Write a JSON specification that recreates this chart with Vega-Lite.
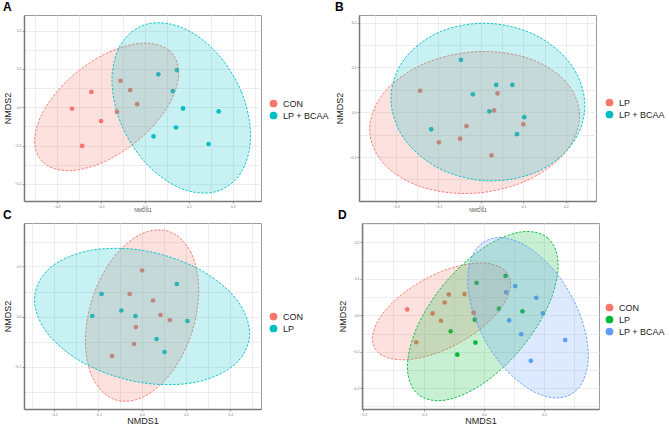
{
"$schema": "https://vega.github.io/schema/vega-lite/v6.json",
"padding": {"left": 2, "top": 0, "right": 0, "bottom": 0},
"background": "white",
"datasets": {
"A_pts": [
{"g":"CON","x":-0.165,"y":-0.004},{"g":"CON","x":-0.121,"y":0.040},{"g":"CON","x":-0.099,"y":-0.036},{"g":"CON","x":-0.142,"y":-0.101},
{"g":"CON","x":-0.055,"y":0.069},{"g":"CON","x":-0.033,"y":0.045},{"g":"CON","x":-0.063,"y":-0.012},{"g":"CON","x":-0.017,"y":0.008},
{"g":"LP + BCAA","x":0.031,"y":0.086},{"g":"LP + BCAA","x":0.073,"y":0.097},{"g":"LP + BCAA","x":0.064,"y":0.042},{"g":"LP + BCAA","x":0.087,"y":-0.003},
{"g":"LP + BCAA","x":0.168,"y":-0.011},{"g":"LP + BCAA","x":0.071,"y":-0.053},{"g":"LP + BCAA","x":0.020,"y":-0.076},{"g":"LP + BCAA","x":0.145,"y":-0.096}
],
"A_ell": [
{"g":"CON","t":0,"x":0.0772,"y":0.0901},{"g":"CON","t":1,"x":0.0553,"y":0.1484},{"g":"CON","t":2,"x":-0.0046,"y":0.1672},{"g":"CON","t":3,"x":-0.0864,"y":0.1413},
{"g":"CON","t":4,"x":-0.1682,"y":0.0778},{"g":"CON","t":5,"x":-0.2281,"y":-0.0062},{"g":"CON","t":6,"x":-0.25,"y":-0.0885},{"g":"CON","t":7,"x":-0.2281,"y":-0.1468},
{"g":"CON","t":8,"x":-0.1682,"y":-0.1656},{"g":"CON","t":9,"x":-0.0864,"y":-0.1397},{"g":"CON","t":10,"x":-0.0046,"y":-0.0762},{"g":"CON","t":11,"x":0.0553,"y":0.0078},
{"g":"LP + BCAA","t":0,"x":0.2403,"y":-0.0741},{"g":"LP + BCAA","t":1,"x":0.2192,"y":0.041},{"g":"LP + BCAA","t":2,"x":0.1617,"y":0.1445},{"g":"LP + BCAA","t":3,"x":0.083,"y":0.2089},
{"g":"LP + BCAA","t":4,"x":0.0043,"y":0.2169},{"g":"LP + BCAA","t":5,"x":-0.0532,"y":0.1662},{"g":"LP + BCAA","t":6,"x":-0.0743,"y":0.0705},{"g":"LP + BCAA","t":7,"x":-0.0532,"y":-0.0446},
{"g":"LP + BCAA","t":8,"x":0.0043,"y":-0.1481},{"g":"LP + BCAA","t":9,"x":0.083,"y":-0.2125},{"g":"LP + BCAA","t":10,"x":0.1617,"y":-0.2205},{"g":"LP + BCAA","t":11,"x":0.2192,"y":-0.1698}
],
"B_pts": [
{"g":"LP","x":-0.143,"y":0.048},{"g":"LP","x":0.039,"y":0.042},{"g":"LP","x":0.031,"y":0.004},{"g":"LP","x":-0.034,"y":-0.031},
{"g":"LP","x":0.100,"y":-0.027},{"g":"LP","x":-0.049,"y":-0.059},{"g":"LP","x":-0.099,"y":-0.067},{"g":"LP","x":0.025,"y":-0.096},
{"g":"LP + BCAA","x":-0.047,"y":0.117},{"g":"LP + BCAA","x":0.036,"y":0.061},{"g":"LP + BCAA","x":0.074,"y":0.061},{"g":"LP + BCAA","x":-0.019,"y":0.040},
{"g":"LP + BCAA","x":0.020,"y":0.002},{"g":"LP + BCAA","x":0.102,"y":-0.011},{"g":"LP + BCAA","x":-0.117,"y":-0.038},{"g":"LP + BCAA","x":0.085,"y":-0.049}
],
"B_ell": [
{"g":"LP","t":0,"x":0.2323,"y":-0.008},{"g":"LP","t":1,"x":0.1992,"y":0.0689},{"g":"LP","t":2,"x":0.1088,"y":0.1213},{"g":"LP","t":3,"x":-0.0148,"y":0.1349},
{"g":"LP","t":4,"x":-0.1384,"y":0.1063},{"g":"LP","t":5,"x":-0.2288,"y":0.0431},{"g":"LP","t":6,"x":-0.2619,"y":-0.0378},{"g":"LP","t":7,"x":-0.2288,"y":-0.1147},
{"g":"LP","t":8,"x":-0.1384,"y":-0.1671},{"g":"LP","t":9,"x":-0.0148,"y":-0.1807},{"g":"LP","t":10,"x":0.1088,"y":-0.1521},{"g":"LP","t":11,"x":0.1992,"y":-0.0889},
{"g":"LP + BCAA","t":0,"x":0.2447,"y":0.0149},{"g":"LP + BCAA","t":1,"x":0.2141,"y":0.1038},{"g":"LP + BCAA","t":2,"x":0.1306,"y":0.171},{"g":"LP + BCAA","t":3,"x":0.0165,"y":0.1985},
{"g":"LP + BCAA","t":4,"x":-0.0976,"y":0.1788},{"g":"LP + BCAA","t":5,"x":-0.1811,"y":0.1174},{"g":"LP + BCAA","t":6,"x":-0.2117,"y":0.0305},{"g":"LP + BCAA","t":7,"x":-0.1811,"y":-0.0584},
{"g":"LP + BCAA","t":8,"x":-0.0976,"y":-0.1256},{"g":"LP + BCAA","t":9,"x":0.0165,"y":-0.1531},{"g":"LP + BCAA","t":10,"x":0.1306,"y":-0.1334},{"g":"LP + BCAA","t":11,"x":0.2141,"y":-0.072}
],
"C_pts": [
{"g":"CON","x":0.000,"y":0.092},{"g":"CON","x":-0.028,"y":0.045},{"g":"CON","x":0.025,"y":0.032},{"g":"CON","x":0.042,"y":0.003},
{"g":"CON","x":0.063,"y":-0.007},{"g":"CON","x":-0.014,"y":-0.021},{"g":"CON","x":-0.018,"y":-0.055},{"g":"CON","x":-0.068,"y":-0.079},
{"g":"LP","x":0.079,"y":0.065},{"g":"LP","x":-0.092,"y":0.045},{"g":"LP","x":-0.047,"y":0.012},{"g":"LP","x":-0.113,"y":0.001},
{"g":"LP","x":-0.015,"y":0.001},{"g":"LP","x":0.103,"y":-0.009},{"g":"LP","x":0.033,"y":-0.045},{"g":"LP","x":0.051,"y":-0.071}
],
"C_ell": [
{"g":"CON","t":0,"x":0.1286,"y":0.0524},{"g":"CON","t":1,"x":0.1114,"y":0.1276},{"g":"CON","t":2,"x":0.0643,"y":0.1691},{"g":"CON","t":3,"x":0,"y":0.1658},
{"g":"CON","t":4,"x":-0.0643,"y":0.1185},{"g":"CON","t":5,"x":-0.1114,"y":0.04},{"g":"CON","t":6,"x":-0.1286,"y":-0.0488},{"g":"CON","t":7,"x":-0.1114,"y":-0.124},
{"g":"CON","t":8,"x":-0.0643,"y":-0.1655},{"g":"CON","t":9,"x":0,"y":-0.1622},{"g":"CON","t":10,"x":0.0643,"y":-0.1149},{"g":"CON","t":11,"x":0.1114,"y":-0.0364},
{"g":"LP","t":0,"x":0.2442,"y":-0.0334},{"g":"LP","t":1,"x":0.2115,"y":0.0373},{"g":"LP","t":2,"x":0.1221,"y":0.098},{"g":"LP","t":3,"x":0,"y":0.1324},
{"g":"LP","t":4,"x":-0.1221,"y":0.1314},{"g":"LP","t":5,"x":-0.2115,"y":0.0951},{"g":"LP","t":6,"x":-0.2442,"y":0.0334},{"g":"LP","t":7,"x":-0.2115,"y":-0.0373},
{"g":"LP","t":8,"x":-0.1221,"y":-0.098},{"g":"LP","t":9,"x":0,"y":-0.1324},{"g":"LP","t":10,"x":0.1221,"y":-0.1314},{"g":"LP","t":11,"x":0.2115,"y":-0.0951}
],
"D_pts": [
{"g":"CON","x":-0.127,"y":0.016},{"g":"CON","x":-0.058,"y":0.057},{"g":"CON","x":-0.032,"y":0.058},{"g":"CON","x":-0.065,"y":0.035},
{"g":"CON","x":-0.085,"y":0.005},{"g":"CON","x":-0.071,"y":-0.015},{"g":"CON","x":-0.017,"y":0.007},{"g":"CON","x":-0.112,"y":-0.074},
{"g":"LP","x":-0.012,"y":0.089},{"g":"LP","x":0.036,"y":0.108},{"g":"LP","x":0.025,"y":0.018},{"g":"LP","x":0.064,"y":0.011},
{"g":"LP","x":-0.015,"y":-0.012},{"g":"LP","x":-0.055,"y":-0.044},{"g":"LP","x":-0.014,"y":-0.075},{"g":"LP","x":-0.044,"y":-0.108},
{"g":"LP + BCAA","x":0.052,"y":0.080},{"g":"LP + BCAA","x":0.037,"y":0.063},{"g":"LP + BCAA","x":0.087,"y":0.048},{"g":"LP + BCAA","x":0.098,"y":0.005},
{"g":"LP + BCAA","x":0.042,"y":-0.014},{"g":"LP + BCAA","x":0.062,"y":-0.052},{"g":"LP + BCAA","x":0.135,"y":-0.068},{"g":"LP + BCAA","x":0.078,"y":-0.125}
],
"D_ell": [
{"g":"CON","t":0,"x":0.0445,"y":0.0858},{"g":"CON","t":1,"x":0.0291,"y":0.1305},{"g":"CON","t":2,"x":-0.0128,"y":0.143},{"g":"CON","t":3,"x":-0.0702,"y":0.1201},
{"g":"CON","t":4,"x":-0.1276,"y":0.0678},{"g":"CON","t":5,"x":-0.1695,"y":0.0003},{"g":"CON","t":6,"x":-0.1849,"y":-0.0646},{"g":"CON","t":7,"x":-0.1695,"y":-0.1093},
{"g":"CON","t":8,"x":-0.1276,"y":-0.1218},{"g":"CON","t":9,"x":-0.0702,"y":-0.0989},{"g":"CON","t":10,"x":-0.0128,"y":-0.0466},{"g":"CON","t":11,"x":0.0291,"y":0.0209},
{"g":"LP","t":0,"x":0.1233,"y":0.137},{"g":"LP","t":1,"x":0.1066,"y":0.2112},{"g":"LP","t":2,"x":0.0608,"y":0.2283},{"g":"LP","t":3,"x":-0.0017,"y":0.1836},
{"g":"LP","t":4,"x":-0.0642,"y":0.0891},{"g":"LP","t":5,"x":-0.11,"y":-0.0298},{"g":"LP","t":6,"x":-0.1267,"y":-0.1414},{"g":"LP","t":7,"x":-0.11,"y":-0.2156},
{"g":"LP","t":8,"x":-0.0642,"y":-0.2327},{"g":"LP","t":9,"x":-0.0017,"y":-0.188},{"g":"LP","t":10,"x":0.0608,"y":-0.0935},{"g":"LP","t":11,"x":0.1066,"y":0.0254},
{"g":"LP + BCAA","t":0,"x":0.1733,"y":-0.1106},{"g":"LP + BCAA","t":1,"x":0.1599,"y":0.0003},{"g":"LP + BCAA","t":2,"x":0.1233,"y":0.1093},{"g":"LP + BCAA","t":3,"x":0.0733,"y":0.1872},
{"g":"LP + BCAA","t":4,"x":0.0233,"y":0.2131},{"g":"LP + BCAA","t":5,"x":-0.0133,"y":0.1801},{"g":"LP + BCAA","t":6,"x":-0.0267,"y":0.097},{"g":"LP + BCAA","t":7,"x":-0.0133,"y":-0.0139},
{"g":"LP + BCAA","t":8,"x":0.0233,"y":-0.1229},{"g":"LP + BCAA","t":9,"x":0.0733,"y":-0.2008},{"g":"LP + BCAA","t":10,"x":0.1233,"y":-0.2267},{"g":"LP + BCAA","t":11,"x":0.1599,"y":-0.1937}
]
},
"vconcat": [
{
"hconcat": [
{
"width": 237, "height": 186,
"title": {"text": "A"},
"encoding": {
"x": {"field": "x", "type": "quantitative", "scale": {"domain": [-0.274, 0.264], "nice": false, "zero": false},
"axis": {"values": [-0.25,-0.2,-0.15,-0.1,-0.05,0,0.05,0.1,0.15,0.2,0.25], "title": "NMDS1", "titleFontSize": 5, "titleColor": "#555", "titlePadding": 0,
"labelExpr": "abs(round(datum.value*100)) % 10 == 0 ? format(datum.value, '.1f') : ''",
"tickOpacity": {"condition": {"test": "abs(round(datum.value*100)) % 10 != 0", "value": 0}, "value": 1}}},
"y": {"field": "y", "type": "quantitative", "scale": {"domain": [-0.245, 0.241], "nice": false, "zero": false},
"axis": {"values": [-0.2,-0.15,-0.1,-0.05,0,0.05,0.1,0.15,0.2], "title": "NMDS2",
"labelExpr": "abs(round(datum.value*100)) % 10 == 0 ? format(datum.value, '.1f') : ''",
"tickOpacity": {"condition": {"test": "abs(round(datum.value*100)) % 10 != 0", "value": 0}, "value": 1}}}
},
"layer": [
{"data": {"name": "A_pts"}, "mark": {"type": "circle", "size": 22, "opacity": 1},
"encoding": {"color": {"field": "g", "type": "nominal", "scale": {"domain": ["CON","LP + BCAA"], "range": ["#F8766D","#00BFC4"]},
"legend": {"orient": "none", "legendX": 245, "legendY": 84}}}},
{"data": {"name": "A_ell"}, "mark": {"type": "line", "interpolate": "cardinal-closed", "strokeDash": [2.5, 1.5], "strokeWidth": 0.9, "fillOpacity": 0.22},
"encoding": {"order": {"field": "t", "type": "quantitative"},
"stroke": {"field": "g", "type": "nominal", "scale": {"domain": ["CON","LP + BCAA"], "range": ["#F8766D","#00BFC4"]}, "legend": null},
"fill": {"field": "g", "type": "nominal", "scale": {"domain": ["CON","LP + BCAA"], "range": ["#F8766D","#00BFC4"]}, "legend": null}}}
]
},
{
"width": 237, "height": 186,
"title": {"text": "B"},
"encoding": {
"x": {"field": "x", "type": "quantitative", "scale": {"domain": [-0.287, 0.271], "nice": false, "zero": false},
"axis": {"values": [-0.25,-0.2,-0.15,-0.1,-0.05,0,0.05,0.1,0.15,0.2,0.25], "title": "NMDS1", "titleFontSize": 5, "titleColor": "#555", "titlePadding": 0,
"labelExpr": "abs(round(datum.value*100)) % 10 == 0 ? format(datum.value, '.1f') : ''",
"tickOpacity": {"condition": {"test": "abs(round(datum.value*100)) % 10 != 0", "value": 0}, "value": 1}}},
"y": {"field": "y", "type": "quantitative", "scale": {"domain": [-0.198, 0.217], "nice": false, "zero": false},
"axis": {"values": [-0.15,-0.1,-0.05,0,0.05,0.1,0.15,0.2], "title": "NMDS2", "titlePadding": 5,
"labelExpr": "abs(round(datum.value*100)) % 10 == 0 ? format(datum.value, '.1f') : ''",
"tickOpacity": {"condition": {"test": "abs(round(datum.value*100)) % 10 != 0", "value": 0}, "value": 1}}}
},
"layer": [
{"data": {"name": "B_pts"}, "mark": {"type": "circle", "size": 22, "opacity": 1},
"encoding": {"color": {"field": "g", "type": "nominal", "scale": {"domain": ["LP","LP + BCAA"], "range": ["#F8766D","#00BFC4"]},
"legend": {"orient": "none", "legendX": 246, "legendY": 83}}}},
{"data": {"name": "B_ell"}, "mark": {"type": "line", "interpolate": "cardinal-closed", "strokeDash": [2.5, 1.5], "strokeWidth": 0.9, "fillOpacity": 0.22},
"encoding": {"order": {"field": "t", "type": "quantitative"},
"stroke": {"field": "g", "type": "nominal", "scale": {"domain": ["LP","LP + BCAA"], "range": ["#F8766D","#00BFC4"]}, "legend": null},
"fill": {"field": "g", "type": "nominal", "scale": {"domain": ["LP","LP + BCAA"], "range": ["#F8766D","#00BFC4"]}, "legend": null}}}
]
}
],
"spacing": 4,
"resolve": {"scale": {"color": "independent", "stroke": "independent", "fill": "independent"}, "legend": {"color": "independent"}}
},
{
"hconcat": [
{
"width": 237, "height": 186,
"title": {"text": "C"},
"encoding": {
"x": {"field": "x", "type": "quantitative", "scale": {"domain": [-0.268, 0.270], "nice": false, "zero": false},
"axis": {"values": [-0.25,-0.2,-0.15,-0.1,-0.05,0,0.05,0.1,0.15,0.2,0.25], "title": "NMDS1", "titlePadding": 1,
"labelExpr": "abs(round(datum.value*100)) % 10 == 0 ? format(datum.value, '.1f') : ''",
"tickOpacity": {"condition": {"test": "abs(round(datum.value*100)) % 10 != 0", "value": 0}, "value": 1}}},
"y": {"field": "y", "type": "quantitative", "scale": {"domain": [-0.185, 0.187], "nice": false, "zero": false},
"axis": {"values": [-0.15,-0.1,-0.05,0,0.05,0.1,0.15], "title": "NMDS2",
"labelExpr": "abs(round(datum.value*100)) % 10 == 0 ? format(datum.value, '.1f') : ''",
"tickOpacity": {"condition": {"test": "abs(round(datum.value*100)) % 10 != 0", "value": 0}, "value": 1}}}
},
"layer": [
{"data": {"name": "C_pts"}, "mark": {"type": "circle", "size": 22, "opacity": 1},
"encoding": {"color": {"field": "g", "type": "nominal", "scale": {"domain": ["CON","LP"], "range": ["#F8766D","#00BFC4"]},
"legend": {"orient": "none", "legendX": 245, "legendY": 89}}}},
{"data": {"name": "C_ell"}, "mark": {"type": "line", "interpolate": "cardinal-closed", "strokeDash": [2.5, 1.5], "strokeWidth": 0.9, "fillOpacity": 0.22},
"encoding": {"order": {"field": "t", "type": "quantitative"},
"stroke": {"field": "g", "type": "nominal", "scale": {"domain": ["CON","LP"], "range": ["#F8766D","#00BFC4"]}, "legend": null},
"fill": {"field": "g", "type": "nominal", "scale": {"domain": ["CON","LP"], "range": ["#F8766D","#00BFC4"]}, "legend": null}}}
]
},
{
"width": 237, "height": 186,
"title": {"text": "D"},
"encoding": {
"x": {"field": "x", "type": "quantitative", "scale": {"domain": [-0.202, 0.191], "nice": false, "zero": false},
"axis": {"values": [-0.2,-0.15,-0.1,-0.05,0,0.05,0.1,0.15], "title": "NMDS1", "titlePadding": 1,
"labelExpr": "abs(round(datum.value*100)) % 10 == 0 ? format(datum.value, '.1f') : ''",
"tickOpacity": {"condition": {"test": "abs(round(datum.value*100)) % 10 != 0", "value": 0}, "value": 1}}},
"y": {"field": "y", "type": "quantitative", "scale": {"domain": [-0.257, 0.253], "nice": false, "zero": false},
"axis": {"values": [-0.25,-0.2,-0.15,-0.1,-0.05,0,0.05,0.1,0.15,0.2,0.25], "title": "NMDS2", "titlePadding": 5,
"labelExpr": "abs(round(datum.value*100)) % 10 == 0 ? format(datum.value, '.1f') : ''",
"tickOpacity": {"condition": {"test": "abs(round(datum.value*100)) % 10 != 0", "value": 0}, "value": 1}}}
},
"layer": [
{"data": {"name": "D_pts"}, "mark": {"type": "circle", "size": 22, "opacity": 1},
"encoding": {"color": {"field": "g", "type": "nominal", "scale": {"domain": ["CON","LP","LP + BCAA"], "range": ["#F8766D","#00BA38","#619CFF"]},
"legend": {"orient": "none", "legendX": 243, "legendY": 80}}}},
{"data": {"name": "D_ell"}, "mark": {"type": "line", "interpolate": "cardinal-closed", "strokeDash": [2.5, 1.5], "strokeWidth": 0.9, "fillOpacity": 0.22},
"encoding": {"order": {"field": "t", "type": "quantitative"},
"stroke": {"field": "g", "type": "nominal", "scale": {"domain": ["CON","LP","LP + BCAA"], "range": ["#F8766D","#00BA38","#619CFF"]}, "legend": null},
"fill": {"field": "g", "type": "nominal", "scale": {"domain": ["CON","LP","LP + BCAA"], "range": ["#F8766D","#00BA38","#619CFF"]}, "legend": null}}}
]
}
],
"spacing": 33,
"resolve": {"scale": {"color": "independent", "stroke": "independent", "fill": "independent"}, "legend": {"color": "independent"}}
}
],
"spacing": -5,
"resolve": {"scale": {"color": "independent", "stroke": "independent", "fill": "independent"}, "legend": {"color": "independent"}},
"config": {
"font": "Liberation Sans",
"view": {"stroke": "#9b9b9b", "strokeWidth": 1},
"title": {"anchor": "start", "frame": "bounds", "fontSize": 12, "fontWeight": "bold", "color": "#000", "offset": 1, "font": "Liberation Sans"},
"axis": {"domainColor": "#7a7a7a", "domainWidth": 1.5, "gridColor": "#e8e8e8", "gridWidth": 0.8, "tickColor": "#9a9a9a", "tickSize": 2,
"labelFontSize": 3.5, "labelColor": "#777", "labelPadding": 1, "titleFontWeight": "normal", "titleColor": "#222", "titleFontSize": 9, "titlePadding": 2, "labelFont": "Liberation Sans", "titleFont": "Liberation Sans"},
"legend": {"title": null, "symbolType": "circle", "symbolSize": 60, "labelFontSize": 9, "labelColor": "#1a1a1a", "labelFont": "Liberation Sans", "rowPadding": 2, "symbolStrokeWidth": 0, "symbolOpacity": 1, "labelOffset": 5}
}
}
